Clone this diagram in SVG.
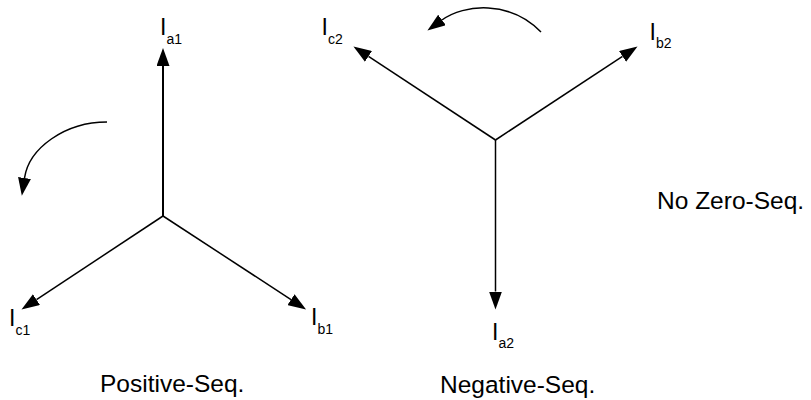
<svg xmlns="http://www.w3.org/2000/svg" width="811" height="400" viewBox="0 0 811 400">
<defs>
<marker id="ah" viewBox="0 0 18 13" markerWidth="18" markerHeight="13" refX="0" refY="6.5" orient="auto" markerUnits="userSpaceOnUse">
<path d="M0,0 L18,6.5 L0,13 z" fill="#000"/>
</marker>
<style>
.vec{stroke:#000;stroke-width:1.5;fill:none;marker-end:url(#ah)}
.rot{stroke:#000;stroke-width:1.5;fill:none;marker-end:url(#ah)}
.lbl{font-family:"Liberation Sans",Arial,sans-serif;font-size:23px;fill:#000}
.sub{font-size:14px}
.cap{font-family:"Liberation Sans",Arial,sans-serif;font-size:24.5px;fill:#000}
</style>
</defs>
<rect width="811" height="400" fill="#fff"/>
<g id="connectors">
<line class="vec" x1="163" y1="216" x2="163" y2="66" style="stroke-width:2"/>
<line class="vec" x1="163" y1="216" x2="291" y2="299.6"/>
<line class="vec" x1="163" y1="216" x2="36.5" y2="299.6"/>
<line class="vec" x1="495.5" y1="140" x2="495.5" y2="291.5"/>
<line class="vec" x1="495.5" y1="140" x2="622.5" y2="56.4"/>
<line class="vec" x1="495.5" y1="140" x2="368.5" y2="56.4"/>
<path class="rot" d="M107,122 C65,122 29,148 24.5,178"/>
<path class="rot" d="M541,32 C510,0 464,4 442,20"/>
</g>
<g id="Ia1"><text class="lbl" x="160" y="35">I<tspan class="sub" dy="8.5">a1</tspan></text></g>
<g id="Ib1"><text class="lbl" x="311" y="325">I<tspan class="sub" dy="8.5">b1</tspan></text></g>
<g id="Ic1"><text class="lbl" x="9" y="326">I<tspan class="sub" dy="8.5">c1</tspan></text></g>
<g id="Ia2"><text class="lbl" x="492" y="339.5">I<tspan class="sub" dy="8.5">a2</tspan></text></g>
<g id="Ib2"><text class="lbl" x="649.5" y="40">I<tspan class="sub" dy="8">b2</tspan></text></g>
<g id="Ic2"><text class="lbl" x="321.5" y="35">I<tspan class="sub" dy="8.5">c2</tspan></text></g>
<g id="captions">
<text class="cap" x="100" y="392">Positive-Seq.</text>
<text class="cap" x="440" y="392.5">Negative-Seq.</text>
<text class="cap" x="657" y="209">No Zero-Seq.</text>
</g>
</svg>
